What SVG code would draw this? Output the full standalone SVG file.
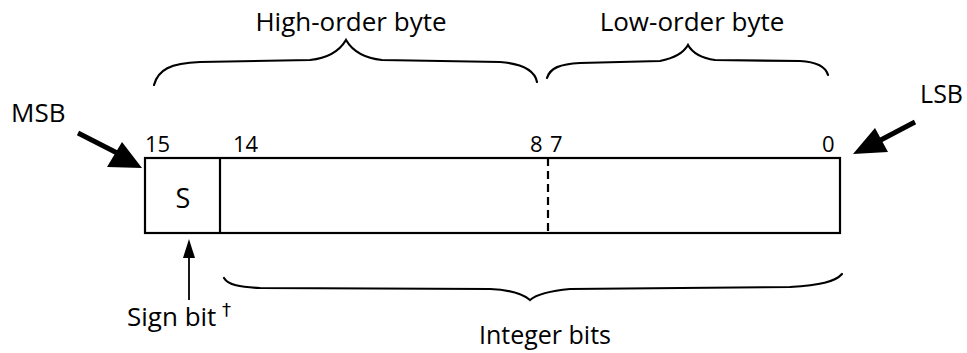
<svg xmlns="http://www.w3.org/2000/svg" width="967" height="353" viewBox="0 0 967 353">
<style>
text{font-family:"Open Sans","Noto Sans","DejaVu Sans",sans-serif;fill:#000}
.lbl{font-size:26px}
.num{font-size:22px}
.ln{fill:none;stroke:#000;stroke-width:2.2}
.brace{fill:none;stroke:#000;stroke-width:2.2;stroke-linecap:round}
</style>
<rect width="967" height="353" fill="#fff"/>
<g id="register">
<rect x="145" y="158" width="695" height="75" class="ln"/>
<line x1="220" y1="158" x2="220" y2="233" class="ln"/>
<line x1="548" y1="158" x2="548" y2="233" class="ln" stroke-dasharray="8,5"/>
<text x="183" y="208" text-anchor="middle" font-size="27">S</text>
<text x="145" y="152" class="num">15</text>
<text x="233" y="152" class="num">14</text>
<text x="530" y="152" class="num">8</text>
<text x="550" y="152" class="num">7</text>
<text x="822" y="152" class="num">0</text>
</g>
<g id="high-byte">
<path class="brace" d="M154,85 C158,70 170,63 200,62 L310,60 C330,58 340,50 346,40 C352,50 362,58 382,60 L500,62 C525,64 535,72 537,82"/>
<text x="351" y="31" class="lbl" text-anchor="middle">High-order byte</text>
</g>
<g id="low-byte">
<path class="brace" d="M547,78 C550,68 560,64 580,63 L660,61 C675,58 684,52 688,45 C692,52 700,58 715,60 L800,61 C820,62 826,68 828,75"/>
<text x="692" y="31" class="lbl" text-anchor="middle">Low-order byte</text>
</g>
<g id="integer-bits">
<path class="brace" d="M224,278 C228,285 240,287 260,288 L490,289 C512,290 524,295 530,300 C536,295 548,291 570,289 L790,287 C820,285 835,282 842,274"/>
<text x="545" y="344" font-size="25" text-anchor="middle">Integer bits</text>
</g>
<g id="msb">
<text x="11" y="122" class="lbl">MSB</text>
</g>
<g id="lsb">
<text x="963" y="103" font-size="25" text-anchor="end">LSB</text>
</g>
<g id="sign-bit">
<text x="127" y="326" class="lbl">Sign bit</text>
<text x="222" y="316" font-size="18" style="font-family:'DejaVu Sans','Liberation Sans',sans-serif;fill:#000">†</text>
</g>
<g id="connectors">
<line x1="78" y1="133" x2="125" y2="157" stroke="#000" stroke-width="5"/>
<polygon points="142,168 122,142 107,167" fill="#000"/>
<line x1="915" y1="122" x2="875" y2="143" stroke="#000" stroke-width="5"/>
<polygon points="853,154 875,128 888,152" fill="#000"/>
<line x1="189" y1="300" x2="189" y2="255" stroke="#000" stroke-width="1.8"/>
<polygon points="189,239 183,258 195,258" fill="#000"/>
</g>
</svg>
